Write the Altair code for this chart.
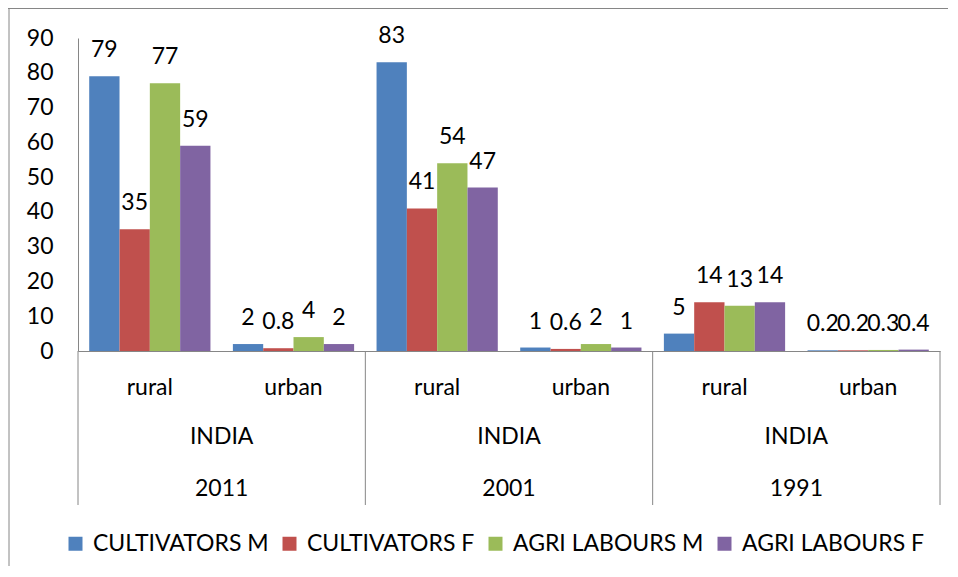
import altair as alt
import pandas as pd

years = ["2011", "2001", "1991"]
areas = ["rural", "urban"]
country = "INDIA"
series = ["CULTIVATORS M", "CULTIVATORS F", "AGRI LABOURS M", "AGRI LABOURS F"]
colors = ["#4F81BD", "#C0504D", "#9BBB59", "#8064A2"]
# order: 2011 rural, 2011 urban, 2001 rural, 2001 urban, 1991 rural, 1991 urban
cult_m = [79, 2, 83, 1, 5, 0.2]
cult_f = [35, 0.8, 41, 0.6, 14, 0.2]
agri_m = [77, 4, 54, 2, 13, 0.3]
agri_f = [59, 2, 47, 1, 14, 0.4]
y_ticks = [0, 10, 20, 30, 40, 50, 60, 70, 80, 90]

keys = [f"{y}|{a}" for y in years for a in areas]
rows = []
for s, vals in zip(series, [cult_m, cult_f, agri_m, agri_f]):
    for k, v in zip(keys, vals):
        rows.append({"key": k, "series": s, "value": v})
df = pd.DataFrame(rows)

grp = pd.DataFrame({"key": [f"{y}|urban" for y in years], "year": years, "country": [country] * 3})
left_div = pd.DataFrame({"key": [f"{y}|rural" for y in years]})
right_div = pd.DataFrame({"key": [f"{years[-1]}|urban"]})
one = pd.DataFrame({"a": [0]})

FONT = "Lato"
FS = 23
GRAY = "#868686"
W, H = 862, 313

xscale = alt.Scale(domain=keys, paddingInner=0, paddingOuter=0)
X = alt.X("key:N", scale=xscale, sort=keys,
          axis=alt.Axis(title=None, ticks=False, tickSize=0, labelAngle=0,
                        labelExpr="split(datum.value, '|')[1]",
                        labelFont=FONT, labelFontSize=FS, labelColor="black",
                        labelBaseline="middle", labelPadding=36,
                        domainColor=GRAY, domainWidth=1))
XO = alt.XOffset("series:N", sort=series,
                 scale=alt.Scale(domain=series, paddingOuter=0.37, paddingInner=0))
Y = alt.Y("value:Q", scale=alt.Scale(domain=[0, 90], nice=False),
          axis=alt.Axis(title=None, values=y_ticks, tickCount=10, ticks=False, grid=False,
                        labelFont=FONT, labelFontSize=FS, labelColor="black",
                        labelPadding=25, labelFlush=False, labelOverlap=False,
                        labelBaseline="middle",
                        domainColor=GRAY, domainWidth=1))

bars = alt.Chart(df).mark_bar().encode(
    x=X, xOffset=XO, y=Y,
    color=alt.Color("series:N", sort=series,
                    scale=alt.Scale(domain=series, range=colors),
                    legend=alt.Legend(orient="none", legendX=-14, legendY=494,
                                      direction="horizontal", title=None,
                                      symbolType="square", symbolSize=196,
                                      symbolStrokeWidth=0, symbolOpacity=1,
                                      labelFont=FONT, labelFontSize=FS,
                                      labelColor="black", labelLimit=400,
                                      columnPadding=9, labelOffset=6)),
)

labels = alt.Chart(df).mark_text(baseline="alphabetic", dy=-19, font=FONT,
                                 fontSize=FS, color="black").encode(
    x=X, xOffset=XO, y=Y,
    text=alt.Text("value:Q", format=".1~f"),
)

india = alt.Chart(grp).mark_text(baseline="middle", font=FONT, fontSize=FS,
                                 color="black").encode(
    x=alt.X("key:N", bandPosition=0), y=alt.value(399), text="country:N")
yr = alt.Chart(grp).mark_text(baseline="middle", font=FONT, fontSize=FS,
                              color="black").encode(
    x=alt.X("key:N", bandPosition=0), y=alt.value(451), text="year:N")

div_l = alt.Chart(left_div).mark_rule(color=GRAY, strokeWidth=1).encode(
    x=alt.X("key:N", bandPosition=0), y=alt.value(H), y2=alt.value(H + 154))
div_r = alt.Chart(right_div).mark_rule(color=GRAY, strokeWidth=1).encode(
    x=alt.X("key:N", bandPosition=1), y=alt.value(H), y2=alt.value(H + 154))

frame_top = alt.Chart(one).mark_rule(color=GRAY, strokeWidth=1).encode(
    x=alt.value(-70), x2=alt.value(900), y=alt.value(-29.5))
frame_left = alt.Chart(one).mark_rule(color=GRAY, strokeWidth=1).encode(
    x=alt.value(-69), y=alt.value(-30), y2=alt.value(560))

chart = alt.layer(bars, labels, india, yr, div_l, div_r, frame_top, frame_left).properties(
    width=W, height=H,
    autosize=alt.AutoSizeParams(type="none"),
    padding={"left": 70, "top": 30, "right": 8, "bottom": 215},
    background="white",
).configure_view(stroke=None)

chart.save("out.html", embed_options={"renderer": "svg", "actions": False})
